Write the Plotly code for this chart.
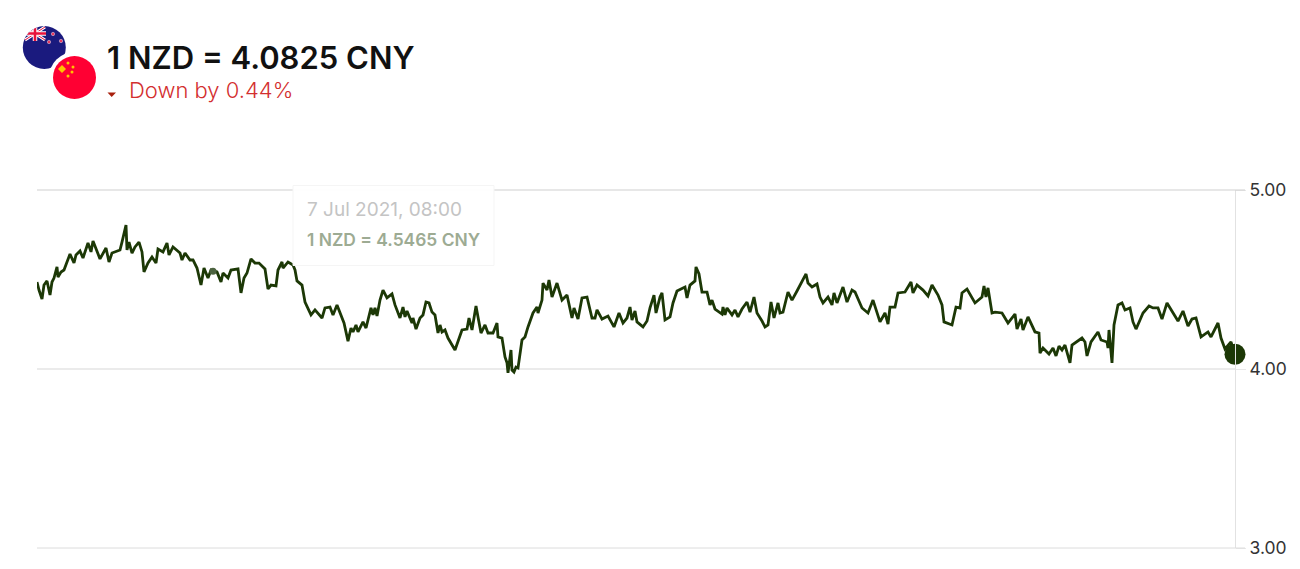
import base64
import plotly.graph_objects as go

samples = [0,2,5,7,10,13,15,17,20,21,24,27,30,33,37,39,43,46,51,54,56,60,63,69,72,75,83,85,89,90,92,95,98,102,105,107,111,115,119,121,126,130,132,136,143,145,148,153,156,160,164,167,171,174,180,184,186,191,194,201,204,207,210,214,218,222,228,231,234,239,241,245,246,251,256,258,260,265,268,274,278,285,288,293,296,300,303,307,311,314,316,319,321,326,329,334,336,338,340,343,346,350,355,358,363,366,368,370,375,376,379,383,386,389,392,395,398,401,403,405,408,411,418,421,425,430,432,435,439,441,444,448,451,456,460,461,465,468,470,471,473,474,475,477,479,481,485,488,491,496,500,501,505,506,510,512,515,520,525,530,535,537,541,545,550,555,558,560,565,571,577,582,586,590,593,595,598,600,606,610,613,617,619,623,625,628,633,636,640,645,648,650,653,658,659,662,665,670,673,675,678,685,686,688,690,695,698,701,705,710,713,717,720,725,728,731,734,737,741,743,746,751,755,760,765,769,771,775,780,783,786,791,795,797,800,806,810,815,818,825,831,836,843,848,851,853,858,861,868,874,876,880,886,891,895,901,905,907,915,919,923,925,930,938,945,947,949,951,955,958,965,971,978,980,984,986,991,998,1002,1003,1006,1012,1016,1019,1022,1025,1028,1033,1035,1045,1048,1050,1054,1061,1064,1070,1071,1072,1075,1077,1081,1085,1088,1093,1096,1099,1103,1106,1112,1116,1121,1125,1130,1136,1141,1146,1151,1155,1159,1164,1171,1174,1181,1184,1188,1194,1198]
rates = [4.486,4.441,4.391,4.469,4.492,4.413,4.486,4.508,4.570,4.514,4.542,4.553,4.598,4.642,4.592,4.637,4.659,4.620,4.704,4.654,4.715,4.654,4.615,4.676,4.598,4.648,4.665,4.709,4.804,4.665,4.709,4.648,4.682,4.709,4.654,4.542,4.592,4.626,4.592,4.670,4.654,4.704,4.637,4.682,4.648,4.609,4.648,4.609,4.609,4.564,4.469,4.564,4.508,4.553,4.542,4.486,4.536,4.508,4.553,4.559,4.425,4.508,4.536,4.615,4.592,4.592,4.559,4.447,4.469,4.464,4.553,4.598,4.564,4.598,4.581,4.553,4.492,4.469,4.374,4.302,4.330,4.285,4.341,4.346,4.302,4.358,4.313,4.257,4.156,4.229,4.207,4.246,4.207,4.263,4.229,4.341,4.302,4.341,4.296,4.385,4.441,4.397,4.419,4.358,4.285,4.346,4.291,4.324,4.257,4.285,4.223,4.285,4.302,4.374,4.369,4.318,4.302,4.201,4.246,4.207,4.218,4.173,4.106,4.151,4.218,4.223,4.285,4.218,4.352,4.291,4.201,4.246,4.201,4.201,4.257,4.179,4.173,4.067,4.034,3.978,4.067,4.106,3.994,3.983,4.011,4.006,4.162,4.179,4.235,4.313,4.346,4.313,4.385,4.480,4.441,4.497,4.402,4.480,4.385,4.413,4.285,4.341,4.279,4.397,4.402,4.285,4.285,4.330,4.279,4.296,4.235,4.313,4.257,4.285,4.346,4.274,4.324,4.263,4.235,4.268,4.341,4.413,4.313,4.402,4.425,4.274,4.291,4.369,4.436,4.447,4.458,4.397,4.469,4.492,4.570,4.531,4.430,4.430,4.358,4.385,4.335,4.307,4.346,4.302,4.341,4.302,4.330,4.291,4.335,4.374,4.318,4.402,4.313,4.268,4.235,4.246,4.374,4.285,4.369,4.313,4.318,4.430,4.385,4.436,4.486,4.531,4.480,4.458,4.475,4.402,4.369,4.402,4.358,4.425,4.369,4.458,4.374,4.441,4.430,4.341,4.313,4.385,4.263,4.313,4.251,4.346,4.346,4.425,4.430,4.486,4.425,4.469,4.441,4.408,4.469,4.413,4.358,4.263,4.246,4.346,4.341,4.425,4.447,4.369,4.402,4.464,4.402,4.453,4.313,4.318,4.313,4.257,4.307,4.223,4.279,4.218,4.291,4.207,4.201,4.089,4.117,4.084,4.117,4.073,4.128,4.106,4.134,4.034,4.134,4.173,4.151,4.073,4.151,4.207,4.162,4.151,4.117,4.218,4.034,4.246,4.358,4.369,4.330,4.341,4.263,4.223,4.274,4.313,4.352,4.341,4.341,4.279,4.369,4.313,4.268,4.324,4.240,4.279,4.285,4.179,4.207,4.179,4.257,4.173,4.112,4.151,4.0825]

y_ticks = [3, 4, 5]
y_labels = ["3.00", "4.00", "5.00"]
hover_sample = 176
hover_rate = 4.5465
title_text = "1 NZD = 4.0825 CNY"
change_text = "Down by 0.44%"
tooltip_date = "7 Jul 2021, 08:00"
tooltip_value = "1 NZD = 4.5465 CNY"

W, H = 1300, 569
L, R, T, B = 37, 65, 190, 21
LINE = "#1c3806"


def px(x):
    return (x - L) / (W - L - R)


def py(y):
    return 1 - (y - T) / (H - T - B)


flags_svg = """<svg xmlns='http://www.w3.org/2000/svg' width='80' height='80' viewBox='0 0 80 80'>
<defs><clipPath id='a'><circle cx='24.3' cy='25.5' r='21.5'/></clipPath><clipPath id='b'><circle cx='54.5' cy='55.5' r='21.5'/></clipPath></defs>
<g clip-path='url(#a)'><rect width='80' height='80' fill='#1a1a7e'/>
<path d='M5 5 L25 18 M25 5 L5 18' stroke='#fff' stroke-width='3'/>
<path d='M5 5 L25 18 M25 5 L5 18' stroke='#e8113a' stroke-width='1'/>
<path d='M15 3 V19 M4 11.5 H26' stroke='#fff' stroke-width='4.5'/>
<path d='M15 3 V19 M4 11.5 H26' stroke='#e8113a' stroke-width='2.6'/>
<circle cx='33' cy='12' r='1.7' fill='#e8395e' stroke='#d9d9f0' stroke-width='.5'/><circle cx='29' cy='20' r='1.7' fill='#e8395e' stroke='#d9d9f0' stroke-width='.5'/>
<circle cx='41' cy='19' r='1.7' fill='#e8395e' stroke='#d9d9f0' stroke-width='.5'/></g>
<circle cx='54.5' cy='55.5' r='25.5' fill='#fff'/>
<g clip-path='url(#b)'><rect width='80' height='80' fill='#ff0033'/>
<path d='M42 43 L46 47 L42 51 L38 47 Z' fill='#ffc400'/>
<circle cx='48' cy='41' r='1.5' fill='#ffc400'/><circle cx='53' cy='45' r='1.5' fill='#ffc400'/>
<circle cx='52' cy='50' r='1.5' fill='#ffc400'/><circle cx='48' cy='54' r='1.5' fill='#ffc400'/></g>
</svg>"""
flags_uri = "data:image/svg+xml;base64," + base64.b64encode(flags_svg.encode()).decode()

fig = go.Figure()
fig.add_trace(go.Scatter(x=samples, y=rates, mode="lines", line=dict(color=LINE, width=2.8), hoverinfo="skip", cliponaxis=False))
fig.add_trace(go.Scatter(x=[hover_sample], y=[hover_rate], mode="markers", marker=dict(color="#4c6340", size=7), hoverinfo="skip", cliponaxis=False))
fig.add_trace(go.Scatter(x=samples[-1:], y=rates[-1:], mode="markers", marker=dict(color=LINE, size=21), hoverinfo="skip", cliponaxis=False))

shapes = [
    dict(type="line", xref="paper", yref="paper", x0=0, x1=px(1245), y0=py(190), y1=py(190), line=dict(color="#cfcfcf", width=1), layer="above"),
    dict(type="line", xref="paper", yref="paper", x0=0, x1=px(1245), y0=py(548), y1=py(548), line=dict(color="#dcdcdc", width=1), layer="above"),
    dict(type="rect", xref="paper", yref="paper", x0=px(293), x1=px(494), y0=py(185.5), y1=py(265.5), fillcolor="rgba(255,255,255,0.94)", line=dict(color="#f5f5f5", width=1), layer="above"),
    dict(type="path", xref="paper", yref="paper", path=f"M {px(107.5)} {py(92.5)} L {px(116)} {py(92.5)} L {px(111.7)} {py(97)} Z", fillcolor="#a8200d", line=dict(width=0)),
]

text_base = dict(xref="paper", yref="paper", xanchor="left", yanchor="middle", showarrow=False, borderpad=0)
annotations = [
    dict(text=title_text, x=px(106), y=py(57), font=dict(family="Inter", size=31, color="#111111", weight=600), **text_base),
    dict(text=change_text, x=px(128), y=py(90), font=dict(family="Inter", size=22, color="#d32f2f", weight=300), **text_base),
    dict(text=tooltip_date, x=px(306), y=py(209.5), font=dict(family="Inter", size=19, color="#c4c4c4", weight=400), **text_base),
    dict(text=tooltip_value, x=px(306), y=py(239), font=dict(family="Inter", size=17.4, color="#9dab93", weight=600), **text_base),
]

fig.update_layout(
    width=W, height=H, margin=dict(l=L, r=R, t=T, b=B, autoexpand=False),
    paper_bgcolor="white", plot_bgcolor="white", showlegend=False,
    shapes=shapes, annotations=annotations,
    images=[dict(source=flags_uri, xref="paper", yref="paper", x=px(20), y=py(22), sizex=80 / (W - L - R), sizey=80 / (H - T - B), xanchor="left", yanchor="top", sizing="stretch", layer="above")],
    xaxis=dict(range=[0, 1198], visible=False, fixedrange=True),
    yaxis=dict(range=[3, 5], side="right", tickvals=y_ticks, ticktext=y_labels, ticks="outside", ticklen=10,
               tickcolor="#e8e8e8", tickwidth=1, gridcolor="#ebebeb", gridwidth=2, showline=True, linecolor="#e2e2e2", linewidth=1,
               zeroline=False, tickfont=dict(family="Inter", size=17.5, color="#333333"), fixedrange=True),
)
fig.write_html("out.html", config=dict(displayModeBar=False), post_script="document.body.style.margin='0';")
